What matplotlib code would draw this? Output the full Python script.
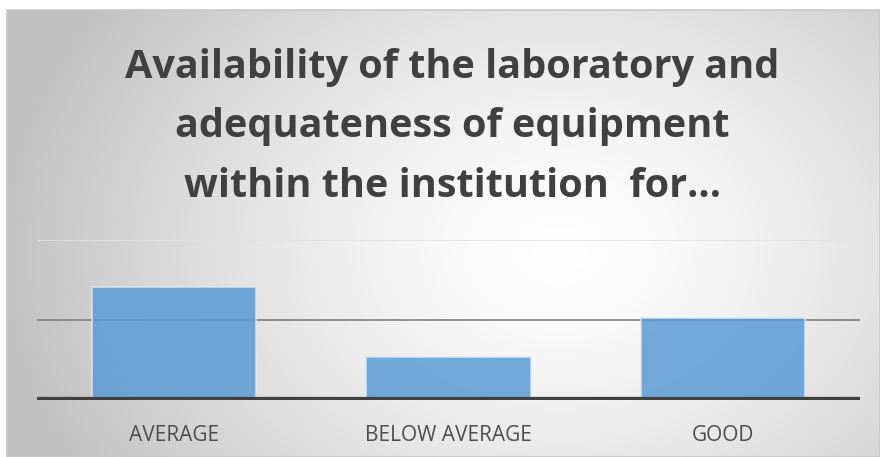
import numpy as np
import matplotlib.pyplot as plt
from matplotlib.patches import Rectangle

categories = ["AVERAGE", "BELOW AVERAGE", "GOOD"]
values = [14.1, 5.4, 10.3]
title = "Availability of the laboratory and\nadequateness of equipment\nwithin the institution  for…"

W, H = 880, 457
fig = plt.figure(figsize=(W / 100, H / 100), dpi=100)

# chart frame with radial gradient background
x0, y0, x1, y1 = 7, 10, 880, 457  # pixel box (top-left origin)
bg = fig.add_axes([x0 / W, 1 - y1 / H, (x1 - x0) / W, (y1 - y0) / H])
gx, gy = np.meshgrid(np.linspace(x0, x1, 300), np.linspace(y0, y1, 160))
r = np.sqrt((gx - 560) ** 2 + ((gy - 250) * 1.3) ** 2) / 560
shade = 1 - 0.24 * np.clip(r, 0, 1) ** 1.4
bg.imshow(np.dstack([shade] * 3), aspect="auto", extent=[0, 1, 0, 1])
bg.set_axis_off()
fig.patches.append(Rectangle((x0 / W, 1 - y1 / H), (x1 - x0) / W, (y1 - y0) / H,
                             transform=fig.transFigure, fill=False,
                             edgecolor="#c8c8c8", linewidth=1.2))

# plot area: x 37..860, y 240 (top gridline) .. 400 (baseline)
ax = fig.add_axes([37 / W, 1 - 400 / H, 823 / W, 160 / H])
ax.patch.set_alpha(0)
x = np.arange(len(categories))
ax.axhline(20, color="#e2e2e2", linewidth=1.2, zorder=0)
ax.axhline(10, color="#7f7f7f", linewidth=1.2, zorder=0)
ax.bar(x, values, width=0.6, color="#5b9bd5", alpha=0.85,
       edgecolor="#dce8f5", linewidth=1.2, zorder=2)
ax.axhline(0, color="#404040", linewidth=4.5, zorder=3)
ax.set_xlim(-0.5, len(categories) - 0.5)
ax.set_ylim(0, 20)
for s in ax.spines.values():
    s.set_visible(False)
ax.set_yticks([])
ax.set_xticks(x)
ax.set_xticklabels(categories, fontsize=15, color="#4d4d4d", family="Open Sans")
ax.tick_params(axis="x", length=0, pad=18)

fig.text(452 / W, 1 - 127 / H, title, ha="center", va="center",
         fontsize=28.5, fontweight="bold", color="#404040", family="Open Sans",
         linespacing=1.68)

fig.savefig("out.png", dpi=100)
